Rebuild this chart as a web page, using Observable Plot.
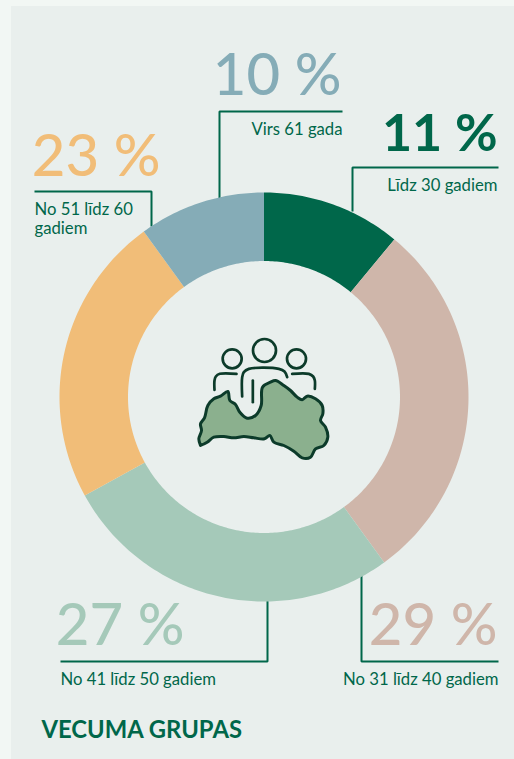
<!DOCTYPE html>
<html><head><meta charset="utf-8">
<script src="https://cdn.jsdelivr.net/npm/d3@7"></script>
<script src="https://cdn.jsdelivr.net/npm/@observablehq/plot@0.6"></script>
<style>html,body{margin:0;padding:0;background:#f2f7f4;overflow:hidden}svg{display:block}</style>
</head><body><div id="chart"></div>
<script>
// Data, clockwise from the top
const groups = ["Līdz 30 gadiem","No 31 līdz 40 gadiem","No 41 līdz 50 gadiem","No 51 līdz 60\ngadiem","Virs 61 gada"];
const shares = [11,29,27,23,10];
const colors = ["#00674a","#cfb6aa","#a5c9b9","#f1bd78","#85acb7"];

// Layout
const W=514,H=759,cx=263.5,cy=396.5,R=204.5,r=136;
const green="#00674a", dark="#0c3b2a";
const bigAt=[[497,150,"end"],[497,644,"end"],[184,644,"end"],[160,175,"end"],[341,94,"end"]];
const smallAt=[[497,190,"end"],[498,684,"end"],[60,684,"start"],[34,214,"start"],[342,134,"end"]];
const leaders=[
 [[352,211],[352,167],[498,167]],
 [[361,575],[361,661],[498,661]],
 [[267,600],[267,661],[60,661]],
 [[151,226],[151,191],[34,191]],
 [[219,198],[219,111],[342,111]]];

// donut outlines derived from shares
const total=d3.sum(shares); let acc=0; const ring=[];
shares.forEach((v,i)=>{
  const a0=acc/total*2*Math.PI; acc+=v; const a1=acc/total*2*Math.PI;
  const n=Math.max(8,Math.round(v*4)), pts=d3.range(n+1).map(k=>a0+(a1-a0)*k/n);
  pts.forEach(a=>ring.push({g:i,x:cx+R*Math.sin(a),y:cy-R*Math.cos(a)}));
  pts.reverse().forEach(a=>ring.push({g:i,x:cx+r*Math.sin(a),y:cy-r*Math.cos(a)}));
});

// icon
const z=([a,b])=>[190+a/3,330+b/3];
const mapOutline=[[30,345],[25,325],[33,300],[30,280],[42,262],[52,225],[70,205],[90,197],[112,183],[118,210],[135,222],[148,245],[170,263],[195,255],[212,225],[216,170],[240,155],[255,150],[280,165],[300,180],[320,200],[335,208],[350,197],[375,205],[395,225],[397,250],[390,270],[405,290],[412,320],[400,345],[375,355],[360,380],[335,382],[310,362],[280,345],[250,335],[238,315],[222,325],[190,322],[160,318],[130,322],[100,318],[70,320],[50,335],[30,345]].map(z);
const heads=[[222,60,11.5],[125,85,9.5],[318,85,9.5]].map(([a,b,s])=>{const [x,y]=z([a,b]);return {x,y,s};});
const bodies=[
 [[155,198],[155,140],[160,125],[175,115],[265,115],[282,123],[290,140]],
 [[72,178],[72,150],[76,138],[88,130],[138,130]],
 [[305,130],[355,130],[368,138],[373,150],[373,175]],
 [[187,150],[187,215]]].map(s=>s.map(z));

const flat=a=>a.flatMap((s,i)=>s.map(p=>({g:i,x:p[0],y:p[1]})));
const bigRows=shares.map((v,i)=>({x:bigAt[i][0],y:bigAt[i][1],t:v+" %",c:colors[i],w:i===0?600:500}));
const smallRows=groups.map((g,i)=>({x:smallAt[i][0],y:smallAt[i][1],t:g,a:smallAt[i][2]}));
const F="Lato, 'Open Sans', sans-serif";

const chart=Plot.plot({
  width:W,height:H,margin:0,
  x:{type:"linear",domain:[0,W],range:[0,W],axis:null},
  y:{type:"linear",domain:[0,H],range:[0,H],axis:null},
  r:{type:"identity"},
  style:{background:"transparent"},
  marks:[
    Plot.rect([{}],{x1:()=>11,x2:()=>W,y1:()=>6,y2:()=>H,fill:"#e9efed"}),
    Plot.line(flat(leaders),{x:"x",y:"y",z:"g",stroke:green,strokeWidth:2,curve:"linear",strokeLinejoin:"miter",strokeLinecap:"butt"}),
    Plot.line(ring,{x:"x",y:"y",z:"g",fill:d=>colors[d.g],stroke:null,curve:"linear-closed"}),
    Plot.line(flat(bodies),{x:"x",y:"y",z:"g",stroke:dark,strokeWidth:2.7,curve:"catmull-rom"}),
    Plot.dot(heads,{x:"x",y:"y",r:"s",stroke:dark,strokeWidth:2.7,fill:"none"}),
    Plot.line(mapOutline.map(p=>({x:p[0],y:p[1]})),{x:"x",y:"y",fill:"#8bb08e",stroke:dark,strokeWidth:3,curve:"catmull-rom-closed",strokeLinejoin:"round"}),
    Plot.text(bigRows.filter(d=>d.w===500),{x:"x",y:"y",text:"t",fill:"c",textAnchor:"end",lineAnchor:"bottom",fontSize:58,fontFamily:F,fontWeight:500}),
    Plot.text(bigRows.filter(d=>d.w===600),{x:"x",y:"y",text:"t",fill:"c",textAnchor:"end",lineAnchor:"bottom",fontSize:52,fontFamily:F,fontWeight:700}),
    Plot.text(smallRows.filter(d=>d.a==="end"),{x:"x",y:"y",text:"t",fill:green,textAnchor:"end",lineAnchor:"bottom",fontSize:16.7,fontFamily:F}),
    Plot.text(smallRows.filter(d=>d.a==="start"),{x:"x",y:"y",text:"t",fill:green,textAnchor:"start",lineAnchor:"top",dy:-13,fontSize:16.7,fontFamily:F,lineHeight:1.14}),
    Plot.text(["VECUMA GRUPAS"],{x:()=>41,y:()=>737,text:d=>d,fill:green,textAnchor:"start",lineAnchor:"bottom",fontSize:23.8,fontWeight:700,fontFamily:F})
  ]
});
document.getElementById("chart").append(chart);
</script></body></html>
